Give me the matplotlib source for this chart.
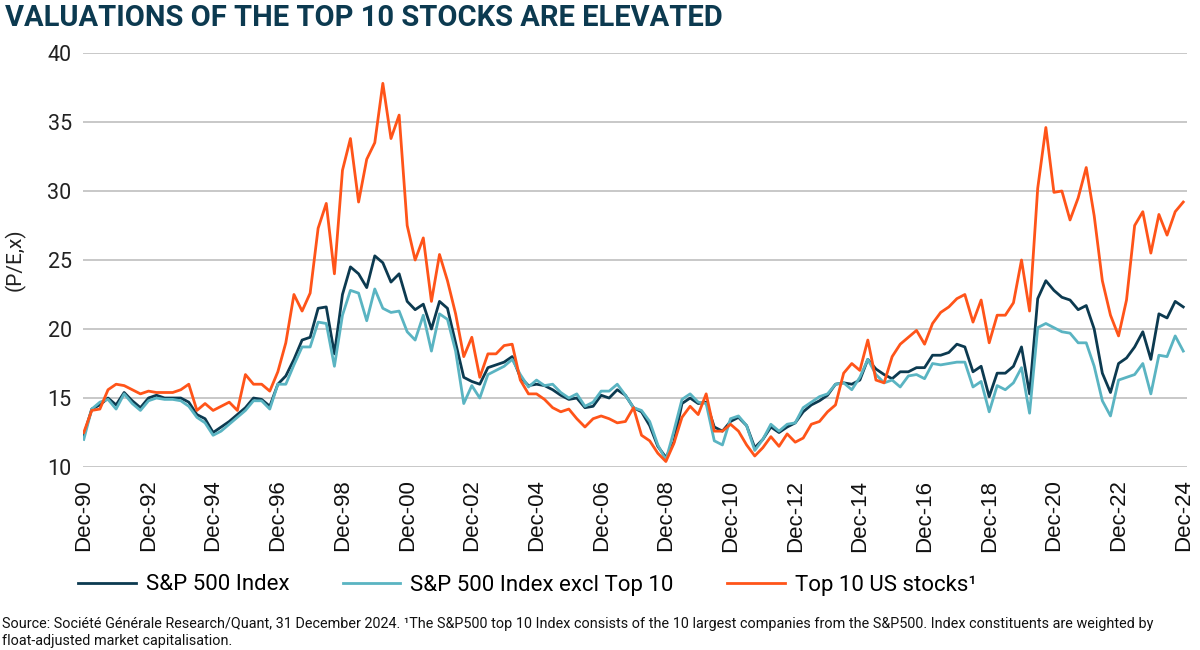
import matplotlib
matplotlib.use("Agg")
import matplotlib.pyplot as plt
import pandas as pd

# quarter-end readings, Dec-90 .. Dec-24
dates = pd.date_range("1990-12-01", periods=137, freq="3MS")

top10 = [
    12.5, 14.1, 14.2, 15.6, 16.0, 15.9, 15.6, 15.3, 15.5, 15.4,
    15.4, 15.4, 15.6, 16.0, 14.1, 14.6, 14.1, 14.4, 14.7, 14.1,
    16.7, 16.0, 16.0, 15.5, 16.9, 19.0, 22.5, 21.3, 22.6, 27.3,
    29.1, 24.0, 31.5, 33.8, 29.2, 32.3, 33.5, 37.8, 33.8, 35.5,
    27.5, 25.0, 26.6, 22.0, 25.4, 23.5, 21.1, 18.0, 19.4, 16.5,
    18.2, 18.2, 18.8, 18.9, 16.3, 15.3, 15.3, 14.9, 14.3, 14.0,
    14.2, 13.5, 12.9, 13.5, 13.7, 13.5, 13.2, 13.3, 14.3, 12.3,
    11.9, 11.0, 10.4, 11.7, 13.6, 14.4, 13.8, 15.3, 12.6, 12.6,
    13.1, 12.6, 11.6, 10.8, 11.4, 12.2, 11.5, 12.4, 11.8, 12.1,
    13.1, 13.3, 14.0, 14.5, 16.8, 17.5, 17.0, 19.2, 16.3, 16.1,
    18.0, 18.9, 19.4, 19.9, 18.9, 20.4, 21.2, 21.6, 22.2, 22.5,
    20.5, 22.1, 19.0, 21.0, 21.0, 21.9, 25.0, 21.3, 30.2, 34.6,
    29.9, 30.0, 27.9, 29.5, 31.7, 28.2, 23.5, 21.0, 19.5, 22.1,
    27.5, 28.5, 25.5, 28.3, 26.8, 28.5, 29.2,
]

spx = [
    12.3, 14.2, 14.5, 15.0, 14.5, 15.4, 14.8, 14.3, 15.0, 15.2,
    15.0, 15.0, 15.0, 14.7, 13.8, 13.5, 12.5, 12.9, 13.3, 13.8,
    14.3, 15.0, 14.9, 14.4, 16.0, 16.6, 17.8, 19.2, 19.4, 21.5,
    21.6, 18.2, 22.5, 24.5, 24.0, 23.0, 25.3, 24.8, 23.4, 24.0,
    22.0, 21.4, 21.8, 20.0, 22.0, 21.5, 19.0, 16.5, 16.2, 16.0,
    17.2, 17.4, 17.6, 18.0, 16.5, 15.9, 16.0, 15.9, 15.6, 15.2,
    14.9, 15.0, 14.3, 14.4, 15.2, 15.0, 15.6, 15.2, 14.3, 14.0,
    13.0, 11.5, 10.7, 11.8, 14.6, 15.0, 14.6, 14.7, 12.9, 12.6,
    13.3, 13.6, 13.0, 11.4, 12.0, 12.9, 12.5, 12.9, 13.2, 14.0,
    14.5, 14.8, 15.2, 16.0, 16.1, 16.0, 16.3, 17.8, 17.1, 16.7,
    16.4, 16.9, 16.9, 17.2, 17.2, 18.1, 18.1, 18.3, 18.9, 18.7,
    16.9, 17.3, 15.1, 16.8, 16.8, 17.3, 18.7, 15.3, 22.2, 23.5,
    22.8, 22.3, 22.1, 21.4, 21.7, 20.0, 16.8, 15.4, 17.5, 17.9,
    18.7, 19.8, 17.8, 21.1, 20.8, 22.0, 21.6,
]

spx_ex10 = [
    12.0, 14.2, 14.7, 14.9, 14.2, 15.3, 14.6, 14.1, 14.8, 15.0,
    14.9, 14.9, 14.8, 14.4, 13.6, 13.2, 12.3, 12.6, 13.1, 13.6,
    14.1, 14.8, 14.8, 14.2, 16.0, 16.0, 17.4, 18.7, 18.7, 20.5,
    20.4, 17.3, 21.0, 22.8, 22.6, 20.6, 22.9, 21.5, 21.2, 21.3,
    19.8, 19.2, 21.0, 18.4, 21.1, 20.7, 18.4, 14.6, 15.9, 15.0,
    16.7, 17.0, 17.3, 17.8, 16.7, 15.8, 16.3, 15.9, 16.0, 15.4,
    15.0, 15.3, 14.4, 14.7, 15.5, 15.5, 16.0, 15.2, 14.3, 14.1,
    13.3, 11.6, 10.5, 12.6, 14.9, 15.3, 14.7, 14.6, 11.9, 11.6,
    13.5, 13.7, 13.0, 11.2, 12.0, 13.1, 12.6, 13.1, 13.2, 14.3,
    14.7, 15.1, 15.3, 16.0, 16.1, 15.6, 16.5, 17.8, 16.7, 16.1,
    16.3, 15.8, 16.6, 16.7, 16.4, 17.5, 17.4, 17.5, 17.6, 17.6,
    15.8, 16.2, 14.0, 15.9, 15.6, 16.1, 17.2, 13.9, 20.1, 20.4,
    20.1, 19.8, 19.7, 19.0, 19.0, 17.3, 14.8, 13.7, 16.3, 16.5,
    16.7, 17.5, 15.3, 18.1, 18.0, 19.5, 18.4,
]

labels = ["S&P 500 Index", "S&P 500 Index excl Top 10", "Top 10 US stocks\u00b9"]
NAVY = "#0c3a50"
TEAL = "#5ab4c2"
ORANGE = "#ff5419"
FONT = "Roboto"

fig = plt.figure(figsize=(12, 6.5), dpi=100)
ax = fig.add_axes([0.069, 0.2815, 0.92, 0.637])

l1, = ax.plot(dates, spx, color=NAVY, lw=2.0, zorder=3)
l2, = ax.plot(dates, spx_ex10, color=TEAL, lw=2.0, zorder=4)
l3, = ax.plot(dates, top10, color=ORANGE, lw=2.0, zorder=5)

ax.set_ylim(10, 40)
ax.set_yticks(range(10, 41, 5))
ax.set_xlim(pd.Timestamp("1990-11-20"), pd.Timestamp("2025-01-10"))
ticks = pd.date_range("1990-12-01", "2024-12-01", freq="24MS")
ax.set_xticks(ticks)
ax.set_xticklabels([d.strftime("Dec-%y") for d in ticks], rotation=90,
                   fontsize=16, family="Liberation Sans", color="#111111")
for t in ax.get_yticklabels():
    t.set_fontsize(15.5)
    t.set_family(FONT)
    t.set_color("#222222")

ax.grid(axis="y", color="#c4c4c4", lw=1.3)
ax.set_axisbelow(True)
for s in ax.spines.values():
    s.set_visible(False)
ax.tick_params(axis="both", length=0)
ax.tick_params(axis="y", pad=8)
ax.tick_params(axis="x", pad=9)

fig.text(0.004, 0.972, "VALUATIONS OF THE TOP 10 STOCKS ARE ELEVATED",
         fontsize=21, fontweight="bold", color=NAVY, family=FONT, va="center")
fig.text(0.0125, 0.6, "(P/E,x)", rotation=90, fontsize=15, family=FONT,
         color="#222222", va="center", ha="center")

fig.legend([l1, l2, l3], labels, ncol=3, loc="center left",
           bbox_to_anchor=(0.065, 0.1), frameon=False,
           prop={"family": FONT, "size": 16}, handlelength=2.6,
           handletextpad=0.45, columnspacing=2.4, borderpad=0,
           borderaxespad=0)

fig.text(0.002, 0.04,
         "Source: Soci\u00e9t\u00e9 G\u00e9n\u00e9rale Research/Quant, 31 December 2024. "
         "\u00b9The S&P500 top 10 Index consists of the 10 largest companies from the S&P500. "
         "Index constituents are weighted by",
         fontsize=10.35, family=FONT, color="#111111", va="center")
fig.text(0.002, 0.014, "float-adjusted market capitalisation.",
         fontsize=10.35, family=FONT, color="#111111", va="center")

fig.savefig("out.png", dpi=100)
